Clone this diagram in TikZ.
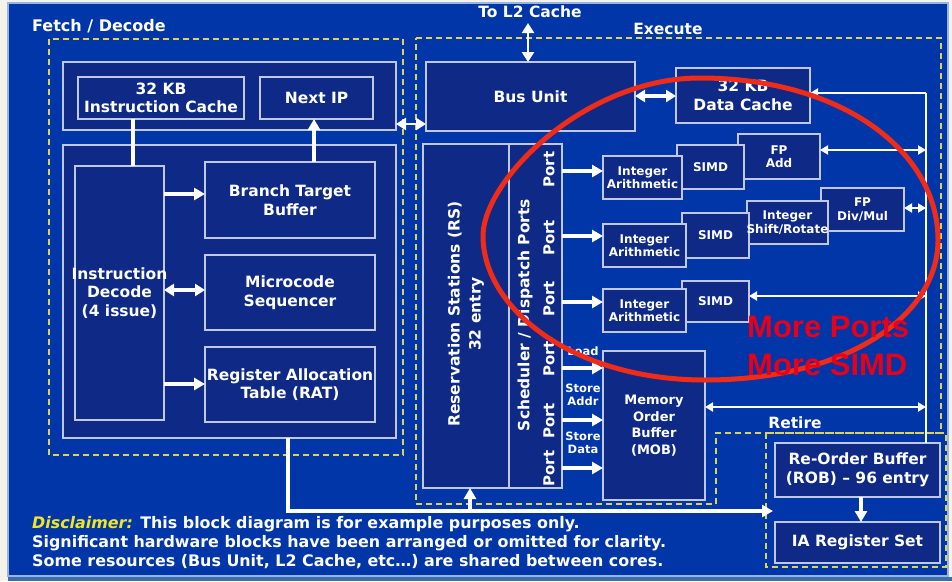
\documentclass[tikz,border=0pt]{standalone}
\usepackage{fontspec}
\setmainfont{DejaVu Sans}
\newfontfamily\arialfont{Liberation Sans}
\usetikzlibrary{arrows.meta,fit}
\definecolor{bgblue}{RGB}{0,54,168}
\definecolor{boxblue}{RGB}{14,42,134}
\definecolor{edge}{RGB}{192,200,228}
\definecolor{dashy}{RGB}{222,212,84}
\definecolor{ellred}{RGB}{240,44,24}
\definecolor{txtred}{RGB}{232,0,24}
\definecolor{discy}{RGB}{240,230,40}
\definecolor{cream}{RGB}{244,242,234}
\definecolor{steel}{RGB}{60,110,172}
\definecolor{rim}{RGB}{150,180,228}
\begin{document}
\begin{tikzpicture}[x=1pt,y=-1pt,
  box/.style={draw=edge, fill=boxblue, line width=1.2pt, inner sep=0pt, outer sep=0pt},
  dashbox/.style={draw=dashy, line width=1.6pt, dash pattern=on 6pt off 4pt},
  lbl/.style={text=white, font=\fontsize{15.5}{18.5}\selectfont\bfseries, align=center, inner sep=0pt},
  slbl/.style={text=white, font=\fontsize{12}{13.5}\selectfont\bfseries, align=center, inner sep=0pt},
  xlbl/.style={text=white, font=\fontsize{11.5}{13}\selectfont\bfseries, align=center, inner sep=0pt},
  mlbl/.style={text=white, font=\fontsize{13}{16.5}\selectfont\bfseries, align=center, inner sep=0pt},
  plbl/.style={text=white, font=\fontsize{15}{18}\selectfont\bfseries, inner sep=0pt, rotate=90},
  dlbl/.style={text=white, font=\fontsize{15.9}{19}\selectfont\bfseries, inner sep=0pt, anchor=base west},
  conn/.style={draw=white, line width=3.2pt},
  thinconn/.style={draw=white, line width=2pt},
  arr/.style={conn, -{Triangle[length=11pt,width=12pt]}},
  darr/.style={conn, {Triangle[length=10pt,width=12pt]}-{Triangle[length=10pt,width=12pt]}},
  tarr/.style={thinconn, -{Triangle[length=8pt,width=9pt]}},
  tdarr/.style={thinconn, {Triangle[length=8pt,width=9pt]}-{Triangle[length=8pt,width=9pt]}},
]
\useasboundingbox (0,0) rectangle (952,581);
% frame
\fill[cream] (0,0) rectangle (952,581);
\fill[bgblue] (8,3) rectangle (948,576);
\draw[rim, line width=1.2pt] (8,3) rectangle (948,576);
\fill[steel] (8,577) rectangle (952,581);

% dashed regions
\draw[dashbox] (49,39) rectangle (403,455);
\draw[dashbox] (416,38) -- (941,38) -- (941,433) -- (716,433) -- (716,504) -- (416,504) -- cycle;
\draw[dashbox] (766,433) rectangle (946,567);

% fetch / decode boxes
\node[box, fit={(63,62) (396,130)}] (ftop) {};
\node[box, fit={(78,77) (244,119)}] (icache) {};
\node[box, fit={(260,77) (373,119)}] (nextip) {};
\node[box, fit={(63,145) (396,438)}] (fbot) {};
\node[box, fit={(75,166) (164,420)}] (decode) {};
\node[box, fit={(205,162) (375,238)}] (btb) {};
\node[box, fit={(205,255) (375,330)}] (mseq) {};
\node[box, fit={(205,347) (375,422)}] (rat) {};

% execute boxes
\node[box, fit={(426,62) (635,131)}] (bus) {};
\node[box, fit={(676,68) (810,123)}] (dcache) {};
\node[box, fit={(423,144) (509,488)}] (rs) {};
\node[box, fit={(509,144) (562,488)}] (sched) {};
\node[box, fit={(738,134) (820,179)}] (fpadd) {};
\node[box, fit={(677,145) (744,189)}] (simd1) {};
\node[box, fit={(603,156) (682,199)}] (ia1) {};
\node[box, fit={(821,188) (904,231)}] (fpdiv) {};
\node[box, fit={(747,201) (828,244)}] (shift) {};
\node[box, fit={(682,213) (749,258)}] (simd2) {};
\node[box, fit={(603,224) (686,267)}] (ia2) {};
\node[box, fit={(682,281) (749,322)}] (simd3) {};
\node[box, fit={(603,289) (686,332)}] (ia3) {};
\node[box, fit={(603,351) (705,500)}] (mob) {};
\node[box, fit={(775,443) (940,497)}] (rob) {};
\node[box, fit={(775,522) (940,563)}] (iareg) {};

% labels
\node[lbl, font=\fontsize{16}{19}\selectfont\bfseries, anchor=west] (fdt) at (32,26) {Fetch / Decode};
\node[lbl] (l2t) at (530,12) {To L2 Cache};
\node[lbl] (ext) at (668,29) {Execute};
\node[lbl] (ret) at (795,423) {Retire};
\node[lbl] (icache-t) at (icache.center) {32 KB\\Instruction Cache};
\node[lbl] (nextip-t) at (nextip.center) {Next IP};
\node[lbl] (decode-t) at (decode.center) {Instruction\\Decode\\(4 issue)};
\node[lbl] (btb-t) at (btb.center) {Branch Target\\Buffer};
\node[lbl] (mseq-t) at (mseq.center) {Microcode\\Sequencer};
\node[lbl] (rat-t) at (rat.center) {Register Allocation\\Table (RAT)};
\node[lbl] (bus-t) at (bus.center) {Bus Unit};
\node[lbl] (dcache-t) at (dcache.center) {32 KB\\Data Cache};
\node[lbl, rotate=90, font=\fontsize{15.5}{21}\selectfont\bfseries] (rs-t) at (466,314) {Reservation Stations (RS)\\32 entry};
\node[lbl, rotate=90] (sched-t) at (525,315) {Scheduler / Dispatch Ports};
\node[plbl] (p1) at (549,169.5) {Port};
\node[plbl] (p2) at (549,238) {Port};
\node[plbl] (p3) at (549,299) {Port};
\node[plbl] (p4) at (549,359) {Port};
\node[plbl] (p5) at (549,421) {Port};
\node[plbl] (p6) at (549,468.5) {Port};
\node[slbl] (ia1-t) at (ia1.center) {Integer\\Arithmetic};
\node[slbl] (ia2-t) at (ia2.center) {Integer\\Arithmetic};
\node[slbl] (ia3-t) at (ia3.center) {Integer\\Arithmetic};
\node[slbl] (simd1-t) at (simd1.center) {SIMD};
\node[slbl] (simd2-t) at (simd2.center) {SIMD};
\node[slbl] (simd3-t) at (simd3.center) {SIMD};
\node[slbl] (fpadd-t) at (fpadd.center) {FP\\Add};
\node[slbl] (fpdiv-t) at (fpdiv.center) {FP\\Div/Mul};
\node[slbl] (shift-t) at (shift.center) {Integer\\Shift/Rotate};
\node[xlbl] (load-t) at (583,351) {Load};
\node[xlbl] (sa-t) at (583,394.5) {Store\\Addr};
\node[xlbl] (sd-t) at (583,442.5) {Store\\Data};
\node[mlbl] (mob-t) at (mob.center) {Memory\\Order\\Buffer\\(MOB)};
\node[lbl] (rob-t) at (rob.center) {Re-Order Buffer\\(ROB) -- 96 entry};
\node[lbl] (iareg-t) at (iareg.center) {IA Register Set};

\node[dlbl] (d1) at (32,528) {\textcolor{discy}{\itshape Disclaimer:} This block diagram is for example purposes only.};
\node[dlbl] (d2) at (32,547) {Significant hardware blocks have been arranged or omitted for clarity.};
\node[dlbl] (d3) at (32,566) {Some resources (Bus Unit, L2 Cache, etc\dots) are shared between cores.};

% connectors fetch/decode
\draw[conn] (icache.south -| 133,0) -- (decode.north -| 133,0);
\draw[arr] (decode.east |- 0,194) -- (btb.west |- 0,194);
\draw[arr] (btb.north -| 314,0) -- (nextip.south -| 314,0);
\draw[darr] (decode.east |- 0,290) -- (mseq.west |- 0,290);
\draw[arr] (decode.east |- 0,384) -- (rat.west |- 0,384);
\coordinate (bend) at (288,511);
\coordinate (retend) at (773,511);
\coordinate (rsin) at (470,511);
\draw[arr] (fbot.south -| bend) -- (bend) -- (retend);
\draw[arr] (rsin) -- (rs.south -| rsin);
\draw[darr, line width=2.6pt] (ftop.east |- 0,124) -- (bus.west |- 0,124);

% connectors execute
\coordinate (l2a) at (528,23);
\draw[darr, line width=2.6pt] (l2a) -- (bus.north -| l2a);
\draw[darr] (bus.east |- 0,96) -- (dcache.west |- 0,96);
\coordinate (vtop) at (926,93);
\coordinate (v1) at (926,150);
\coordinate (v2) at (926,208);
\coordinate (v3) at (926,296);
\coordinate (v4) at (926,407);
\draw[thinconn] (rob.north -| vtop) -- (vtop);
\draw[tarr] (vtop) -- (dcache.east |- vtop);
\draw[tdarr] (fpadd.east |- v1) -- (v1);
\draw[tdarr] (fpdiv.east |- v2) -- (v2);
\draw[tdarr] (simd3.east |- v3) -- (v3);
\draw[tdarr] (mob.east |- v4) -- (v4);
\foreach \yy/\tt in {171/ia1, 236/ia2, 302/ia3, 368/mob, 420/mob, 468/mob}
  \draw[arr] (sched.east |- 0,\yy) -- (\tt.west |- 0,\yy);
\draw[arr] (rob.south -| 861,0) -- (iareg.north -| 861,0);

% red highlight
\draw[ellred, line width=5pt] (483,236) .. controls (483,180) and (585,78) .. (700,78)
  .. controls (840,78) and (938,150) .. (938,240)
  .. controls (938,317) and (845,380) .. (705,380)
  .. controls (572,380) and (483,308) .. (483,236) -- cycle;
\node[text=txtred, font=\arialfont\fontsize{31}{38}\selectfont\bfseries, align=left, anchor=west, inner sep=0pt] (more) at (747,346) {More Ports\\More SIMD};
\end{tikzpicture}
\end{document}
